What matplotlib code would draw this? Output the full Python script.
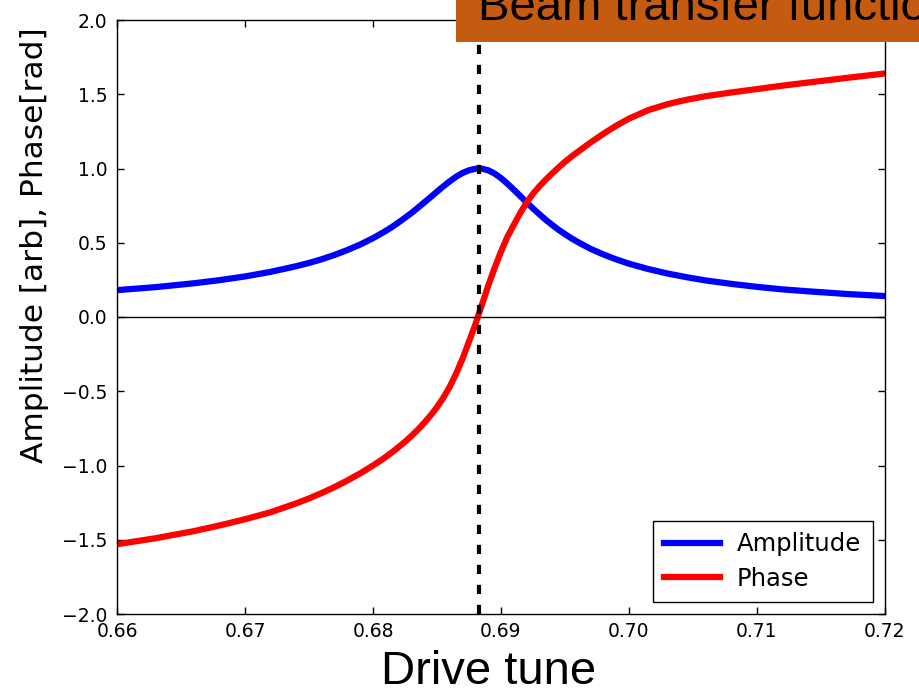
import matplotlib
matplotlib.use("Agg")
import matplotlib.pyplot as plt
from matplotlib.patches import Rectangle

# drive tune samples (denser around the resonance)
tune = [0.660, 0.663, 0.666, 0.668, 0.670, 0.672, 0.674, 0.675, 0.676, 0.677, 0.678, 0.679,
        0.6800, 0.6805, 0.6810, 0.6815, 0.6820, 0.6825, 0.6830, 0.6835, 0.6840, 0.6845,
        0.6850, 0.6855, 0.6860, 0.6865, 0.6870, 0.6875, 0.6880, 0.6883, 0.6885, 0.6890,
        0.6895, 0.6900, 0.6905, 0.6910, 0.6915, 0.6920, 0.6925, 0.6930, 0.6935, 0.6940,
        0.6945, 0.6950, 0.6955, 0.6960,
        0.697, 0.698, 0.699, 0.700, 0.7015, 0.703, 0.7045, 0.706, 0.708, 0.710, 0.712,
        0.714, 0.717, 0.720]
amplitude = [0.181, 0.201, 0.227, 0.248, 0.273, 0.304, 0.342, 0.364, 0.389, 0.418, 0.451, 0.488,
             0.531, 0.555, 0.580, 0.607, 0.637, 0.668, 0.700, 0.735, 0.771, 0.807,
             0.844, 0.880, 0.914, 0.945, 0.970, 0.988, 0.998, 1.000, 0.999, 0.988,
             0.966, 0.935, 0.898, 0.857, 0.815, 0.772, 0.731, 0.692, 0.654, 0.620,
             0.587, 0.558, 0.530, 0.505,
             0.459, 0.421, 0.388, 0.359, 0.323, 0.293, 0.268, 0.246, 0.223, 0.203, 0.186,
             0.173, 0.155, 0.141]
phase = [-1.53, -1.49, -1.442, -1.404, -1.362, -1.315, -1.255, -1.222, -1.185, -1.145, -1.101, -1.053,
         -1.000, -0.972, -0.942, -0.910, -0.876, -0.840, -0.801, -0.759, -0.713, -0.663,
         -0.607, -0.543, -0.469, -0.380, -0.280, -0.165, -0.05, 0.03, 0.08, 0.21,
         0.33, 0.44, 0.54, 0.62, 0.70, 0.77, 0.83, 0.88, 0.925, 0.967,
         1.007, 1.045, 1.080, 1.112,
         1.175, 1.234, 1.288, 1.336, 1.393, 1.433, 1.463, 1.487, 1.512, 1.535, 1.558,
         1.579, 1.610, 1.64]
resonance = 0.6883

xticks = [0.66, 0.67, 0.68, 0.69, 0.70, 0.71, 0.72]
yticks = [-2.0, -1.5, -1.0, -0.5, 0.0, 0.5, 1.0, 1.5, 2.0]

fig = plt.figure(figsize=(9.2, 6.92), dpi=100)
ax = fig.add_axes([117 / 920, 78 / 692, 768 / 920, 594 / 692])

ax.plot(tune, amplitude, color="blue", lw=4.5, label="Amplitude", solid_joinstyle="round")
ax.plot(tune, phase, color="red", lw=4.5, label="Phase", solid_joinstyle="round")
ax.axhline(0, color="black", lw=1)
ax.axvline(resonance, color="black", lw=3, linestyle=(0, (2.2, 2.6)))

ax.set_xlim(0.66, 0.72)
ax.set_ylim(-2.0, 2.0)
ax.set_xticks(xticks)
ax.set_xticklabels(["%.2f" % t for t in xticks])
ax.set_yticks(yticks)
ax.set_yticklabels([("%.1f" % t).replace("-", "\u2212") for t in yticks])
ax.tick_params(direction="in", length=5, width=1, top=True, right=True,
               labelsize=13.5, colors="black")
ax.tick_params(axis="x", pad=6)
ax.tick_params(axis="y", pad=7)
for sp in ax.spines.values():
    sp.set_linewidth(1)

leg = ax.legend(loc="lower right", bbox_to_anchor=(0.984, 0.020), borderaxespad=0,
                fontsize=17.5, handlelength=2.3, handletextpad=0.7, fancybox=False,
                framealpha=1, edgecolor="black", borderpad=0.47, labelspacing=0.43)
leg.get_frame().set_linewidth(1)

# slide texts around the plot
fig.text(35 / 920, 1 - 245 / 692, "Amplitude [arb], Phase[rad]", rotation=90,
         ha="center", va="center", fontsize=22.5, family="DejaVu Sans")
fig.text(489 / 920, 1 - 684 / 692, "Drive tune", ha="center", va="baseline",
         fontsize=34, family="Liberation Sans")
fig.patches.append(Rectangle((456 / 920, 1 - 42 / 692), 464 / 920, 42 / 692,
                             transform=fig.transFigure, facecolor="#C55A11",
                             edgecolor="none", zorder=5))
fig.text(478 / 920, 1 - 20 / 692, "Beam transfer function", ha="left", va="baseline",
         fontsize=34, family="Liberation Sans", zorder=6)

fig.savefig("out.png", dpi=100)
